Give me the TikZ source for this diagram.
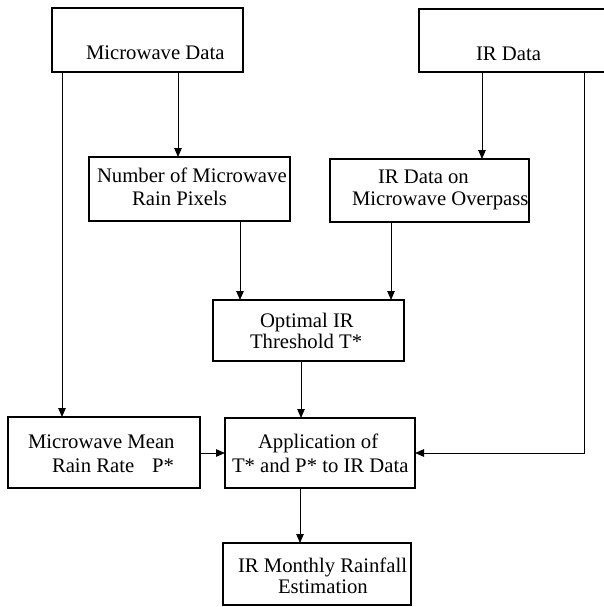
\documentclass[tikz,border=0pt]{standalone}
\usepackage{fontspec}
\setmainfont{Liberation Serif}
\usetikzlibrary{arrows.meta}
\tikzset{
  box/.style={draw=black, line width=1.1pt, inner sep=0pt, outer sep=0pt, fill=none},
  txt/.style={inner sep=0pt, outer sep=0pt, anchor=base west, font=\fontsize{20.7pt}{24pt}\selectfont},
  arr/.style={draw=black, line width=1pt, -{Triangle[length=9pt,width=7.5pt]}},
  ln/.style={draw=black, line width=1pt}
}
\begin{document}
\begin{tikzpicture}[x=1pt,y=-1pt]
\useasboundingbox (0,0) rectangle (603,607);
% boxes
\node[box, minimum width=191pt, minimum height=64pt] (mw) at (147.5,40) {};
\node[box, minimum width=201pt, minimum height=63pt] (ir) at (519.5,40.5) {};
\node[box, minimum width=201pt, minimum height=64pt] (num) at (189.5,189) {};
\node[box, minimum width=199pt, minimum height=63pt] (irmw) at (429.5,190.5) {};
\node[box, minimum width=191pt, minimum height=61pt] (opt) at (308.5,330.5) {};
\node[box, minimum width=192pt, minimum height=71pt] (mwm) at (104,452.5) {};
\node[box, minimum width=190pt, minimum height=70pt] (app) at (320,453) {};
\node[box, minimum width=188pt, minimum height=62pt] (est) at (317,574) {};
% texts
\node[txt] (t1) at (86,60) {Microwave Data};
\node[txt] (t2) at (476,61) {IR Data};
\node[txt] (t3a) at (97,182) {Number of Microwave};
\node[txt] (t3b) at (132,205) {Rain Pixels};
\node[txt] (t4a) at (378,183) {IR Data on};
\node[txt] (t4b) at (352,205) {Microwave Overpass};
\node[txt] (t5a) at (260,327) {Optimal IR};
\node[txt] (t5b) at (250,348) {Threshold T*};
\node[txt] (t6a) at (28,448) {Microwave Mean};
\node[txt] (t6b) at (52,472) {Rain Rate\hspace{18pt}P*};
\node[txt] (t7a) at (258,448) {Application of};
\node[txt] (t7b) at (232,472) {T* and P* to IR Data};
\node[txt] (t8a) at (238,572) {IR Monthly Rainfall};
\node[txt] (t8b) at (278,593) {Estimation};
% connector guides
\coordinate (xa) at (178,0);
\coordinate (xb) at (62,0);
\coordinate (xc) at (482,0);
\coordinate (xd) at (584,0);
\coordinate (xe) at (240,0);
\coordinate (xf) at (391,0);
\coordinate (xg) at (301,0);
\coordinate (xh) at (300,0);
\coordinate (ya) at (0,453);
% connectors
\draw[arr] (mw.south -| xa) -- (num.north -| xa);
\draw[arr] (mw.south -| xb) -- (mwm.north -| xb);
\draw[arr] (ir.south -| xc) -- (irmw.north -| xc);
\draw[arr] (ir.south -| xd) -- (xd |- ya) -- (app.east |- ya);
\draw[arr] (num.south -| xe) -- (opt.north -| xe);
\draw[arr] (irmw.south -| xf) -- (opt.north -| xf);
\draw[arr] (opt.south -| xg) -- (app.north -| xg);
\draw[arr] (mwm.east |- ya) -- (app.west |- ya);
\draw[arr] (app.south -| xh) -- (est.north -| xh);
\end{tikzpicture}
\end{document}
